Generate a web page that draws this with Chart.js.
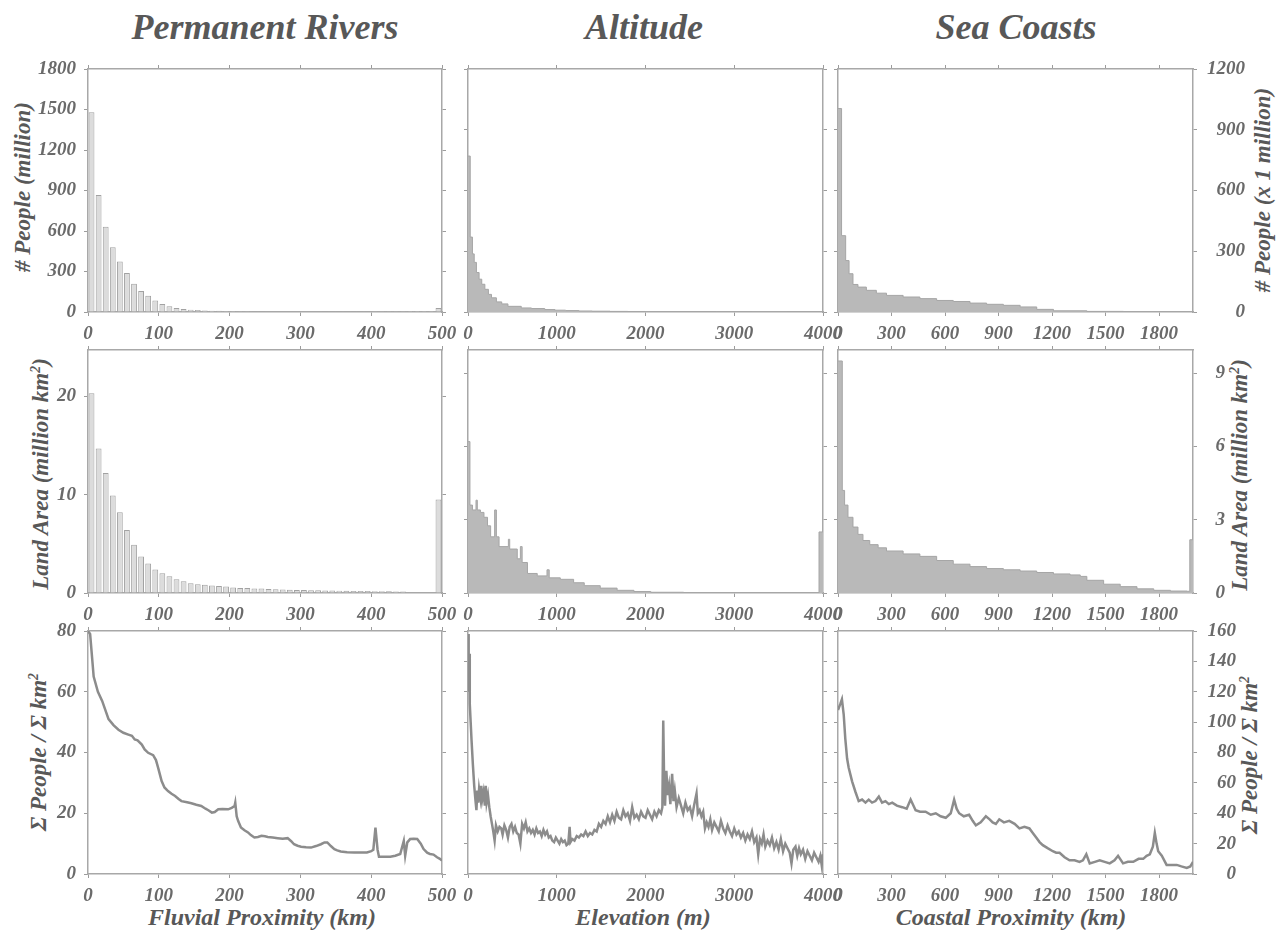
<!DOCTYPE html>
<html>
<head>
<meta charset="utf-8">
<title>Population vs rivers, altitude and coasts</title>
<script src="https://cdn.jsdelivr.net/npm/chart.js@4.4.1/dist/chart.umd.min.js"></script>
<style>
  body { margin: 0; background: #fff; }
  #page {
    position: relative; width: 1278px; height: 934px; overflow: hidden;
    font-family: 'Liberation Serif', 'DejaVu Serif', serif;
    font-style: italic; font-weight: bold; color: #585858;
  }
  #page canvas { position: absolute; }
  .head { position: absolute; top: 27px; font-size: 36px; white-space: nowrap; transform: translate(-50%, -50%); }
  .ylab { position: absolute; font-size: 23px; white-space: nowrap; transform: translate(-50%, -50%) rotate(-90deg); }
  .xlab { position: absolute; top: 917px; font-size: 24px; white-space: nowrap; transform: translate(-50%, -50%); }
  sup { font-size: 60%; }
</style>
</head>
<body>
<div id="page">
  <div class="head" style="left:265px">Permanent Rivers</div>
  <div class="head" style="left:644px">Altitude</div>
  <div class="head" style="left:1016px">Sea Coasts</div>

  <div class="ylab" style="left:23px; top:187px">&#35; People (million)</div>
  <div class="ylab" style="left:41px; top:474px">Land Area (million km<sup>2</sup>)</div>
  <div class="ylab" style="left:39px; top:752px">&Sigma; People / &Sigma; km<sup>2</sup></div>
  <div class="ylab" style="left:1263px; top:190px">&#35; People (x 1 million)</div>
  <div class="ylab" style="left:1240px; top:475px">Land Area (million km<sup>2</sup>)</div>
  <div class="ylab" style="left:1250px; top:755px">&Sigma; People / &Sigma; km<sup>2</sup></div>

  <div class="xlab" style="left:262px">Fluvial Proximity (km)</div>
  <div class="xlab" style="left:643px">Elevation (m)</div>
  <div class="xlab" style="left:1011px">Coastal Proximity (km)</div>
</div>
<script>
// ---- Permanent rivers: 10 km bins (bin centres) ----
const riverBins = [5, 15, 25, 35, 45, 55, 65, 75, 85, 95, 105, 115, 125, 135, 145,
  155, 165, 175, 185, 195, 205, 215, 225, 235, 245, 255, 265, 275, 285, 295,
  305, 315, 325, 335, 345, 355, 365, 375, 385, 395, 405, 415, 425, 435, 445,
  455, 465, 475, 485, 495];
const riverPeople = [1480, 866, 632, 480, 374, 288, 209, 155, 120, 86, 59, 42, 30, 22, 17,
  14, 12, 10, 9, 8, 7, 6, 6, 5, 5, 4, 4, 4, 3, 3,
  3, 3, 3, 2, 2, 2, 2, 2, 2, 2, 1, 1, 1, 1, 1,
  0.5, 0.5, 0.5, 0.5, 30];
const riverArea = [20.3, 14.7, 12.2, 9.9, 8.2, 6.4, 4.9, 3.7, 3.0, 2.4, 2.0, 1.7, 1.4, 1.2, 1.0,
  0.9, 0.85, 0.75, 0.7, 0.65, 0.55, 0.5, 0.5, 0.45, 0.45, 0.4, 0.38, 0.35, 0.33, 0.3,
  0.3, 0.28, 0.27, 0.25, 0.25, 0.23, 0.22, 0.21, 0.2, 0.2, 0.19, 0.18, 0.17, 0.16, 0.15,
  0.05, 0.05, 0.05, 0.05, 9.5];
const riverDensX = [0, 3, 8, 14, 20, 29, 36, 43, 50, 57, 62, 66, 70, 76, 80, 85, 92, 96, 99, 104,
  108, 113, 118, 123, 128, 132, 140, 146, 153, 160, 166, 170, 175, 179, 184, 190, 198, 203, 207, 208,
  210, 212, 216, 221, 226, 230, 235, 240, 245, 250, 254, 261, 268, 275, 282, 287, 291, 296, 301, 308,
  315, 322, 329, 334, 338, 343, 348, 352, 357, 366, 376, 385, 394, 400, 403, 406, 409, 411, 420, 427,
  434, 441, 446, 448, 451, 455, 460, 465, 470, 474, 479, 483, 488, 493, 497, 500];
const riverDensY = [80, 79, 65, 60, 57, 51, 49, 47.5, 46.5, 45.9, 45.5, 44.3, 44, 42.6, 41, 39.9, 39.1, 37.5, 35, 30.6,
  28.5, 27.3, 26.4, 25.7, 24.7, 24, 23.6, 23.3, 22.8, 22.4, 21.5, 21, 20.2, 20.4, 21.3, 21.4, 21.3, 21.8, 22.4, 23.5,
  19, 17.5, 15.3, 14.4, 13.7, 12.8, 12, 12.2, 12.6, 12.4, 12.2, 12, 11.8, 11.6, 11.8, 10.8, 9.8, 9.3, 9, 8.8,
  8.7, 9.2, 9.8, 10.4, 10.4, 9.2, 8.2, 7.8, 7.4, 7.2, 7.1, 7.1, 7.1, 7.5, 8, 15.3, 8, 5.7, 5.7, 5.7,
  6, 6.6, 10.9, 6, 10.4, 11.5, 11.6, 11.5, 10, 8.2, 7, 6.6, 6.4, 5.5, 5, 4.4];

// ---- Altitude: bins given by their left edge (m) ----
const elevPeopleEdges = [0, 25, 50, 70, 95, 125, 155, 190, 230, 265, 320, 380, 450, 600, 715,
  865, 980, 1100, 1250, 1400, 1600, 1800, 2000, 2400, 2800, 3200, 3600, 3950, 4000];
const elevPeople = [770, 370, 287, 245, 195, 162, 137, 112, 87, 70, 50, 40, 28, 20, 17,
  12, 9, 7, 5, 4, 3, 2.5, 2, 1.5, 1, 0.8, 0.5, 1, 1];
const elevAreaEdges = [0, 22, 50, 90, 105, 140, 180, 220, 255, 300, 320, 350, 455, 470, 555,
  590, 610, 670, 780, 890, 915, 1040, 1190, 1310, 1490, 1680, 1870, 2060, 2430, 3955, 4000];
const elevArea = [6.2, 3.6, 3.4, 3.8, 3.4, 3.3, 3.1, 2.75, 2.3, 3.4, 2.3, 1.9, 2.2, 1.8, 1.4,
  1.9, 1.25, 0.8, 0.7, 0.95, 0.62, 0.56, 0.42, 0.3, 0.2, 0.11, 0.06, 0.03, 0.01, 2.5, 2.5];
const elevDensX = [0, 5, 10, 15, 20, 30, 40, 55, 70, 85, 95, 105, 115, 125, 140, 150, 160, 175, 190, 200,
  210, 225, 240, 255, 270, 285, 300, 315, 335, 355, 375, 390, 410, 430, 450, 470, 490, 510, 530, 550,
  570, 590, 610, 630, 650, 670, 690, 710, 730, 750, 770, 790, 810, 830, 850, 870, 890, 910, 930, 950,
  970, 990, 1010, 1030, 1050, 1070, 1090, 1110, 1130, 1145, 1155, 1175, 1200, 1225, 1250, 1275, 1300, 1325, 1350, 1375,
  1400, 1425, 1450, 1475, 1500, 1525, 1550, 1575, 1600, 1625, 1650, 1675, 1700, 1725, 1750, 1775, 1800, 1825, 1850, 1875,
  1900, 1925, 1950, 1975, 2000, 2025, 2050, 2075, 2100, 2125, 2150, 2175, 2190, 2200, 2210, 2220, 2235, 2250, 2265, 2280,
  2300, 2315, 2330, 2350, 2375, 2400, 2425, 2450, 2475, 2500, 2525, 2550, 2575, 2590, 2610, 2630, 2650, 2670, 2690, 2710,
  2730, 2750, 2775, 2800, 2825, 2850, 2875, 2900, 2925, 2950, 2975, 3000, 3025, 3050, 3075, 3100, 3125, 3150, 3175, 3200,
  3225, 3250, 3270, 3290, 3310, 3330, 3350, 3375, 3400, 3425, 3450, 3475, 3500, 3525, 3550, 3575, 3600, 3625, 3645, 3665,
  3690, 3710, 3730, 3750, 3775, 3800, 3825, 3850, 3875, 3900, 3925, 3950, 3970, 3985, 4000];
const elevDensY = [158, 150, 120, 145, 112, 100, 88, 72, 58, 48, 42, 55, 47, 56, 50, 58, 49, 54, 45, 58,
  47, 52, 44, 38, 33, 28, 22, 32, 28, 31, 30, 26, 32, 29, 24, 31, 33, 28, 31, 27,
  26, 20, 33, 30, 34, 28, 30, 27, 29, 26, 30, 27, 28, 25, 29, 26, 28, 24, 25, 22,
  21, 24, 22, 20, 23, 21, 22, 19, 20, 31, 21, 23, 22, 25, 24, 26, 25, 28, 25, 27,
  26, 29, 28, 33, 31, 35, 33, 38, 34, 39, 35, 41, 37, 36, 42, 38, 40, 35, 44, 37,
  39, 36, 41, 38, 37, 42, 39, 36, 41, 38, 42, 40, 44, 101, 60, 45, 68, 52, 58, 46,
  66, 48, 55, 44, 50, 45, 40, 47, 42, 44, 38, 46, 53, 40, 42, 38, 41, 30, 34, 31,
  36, 29, 34, 31, 28, 35, 30, 27, 32, 28, 25, 30, 26, 28, 24, 27, 22, 26, 23, 28,
  21, 24, 13, 23, 20, 26, 18, 22, 19, 24, 17, 21, 16, 23, 15, 20, 17, 14, 7, 16,
  18, 12, 17, 13, 16, 10, 15, 12, 9, 14, 11, 8, 12, 6, 13];

// ---- Sea coasts: bins given by their left edge (km) ----
const coastPeopleEdges = [0, 20, 43, 62, 84, 112, 159, 215, 272, 365, 459, 553, 646, 740, 833,
  927, 1021, 1114, 1208, 1395, 1600, 1990];
const coastPeople = [1005, 377, 254, 189, 136, 123, 107, 93, 82, 74, 66, 57, 52, 44, 38,
  33, 25, 13, 6, 3, 2, 2];
const coastAreaEdges = [0, 24, 37, 56, 84, 112, 140, 178, 225, 272, 365, 459, 553, 646, 740,
  833, 927, 1021, 1114, 1208, 1301, 1358, 1395, 1489, 1582, 1676, 1770, 1864, 1957, 1972, 1990];
const coastArea = [9.5, 4.2, 3.6, 3.1, 2.7, 2.4, 2.15, 1.98, 1.85, 1.72, 1.6, 1.5, 1.33, 1.18, 1.08,
  1.0, 0.95, 0.9, 0.84, 0.78, 0.74, 0.68, 0.52, 0.36, 0.26, 0.17, 0.11, 0.08, 0.07, 2.18, 2.18];
const coastDensX = [0, 13, 22, 32, 41, 51, 60, 79, 98, 116, 135, 154, 172, 191, 210, 229, 247, 266, 285, 304,
  330, 360, 385, 407, 435, 460, 491, 520, 548, 575, 604, 632, 651, 665, 679, 705, 735, 755, 773, 800,
  829, 850, 867, 885, 904, 930, 960, 990, 1017, 1045, 1073, 1092, 1111, 1130, 1148, 1175, 1204, 1223, 1242, 1270,
  1298, 1326, 1354, 1373, 1392, 1411, 1440, 1467, 1495, 1523, 1550, 1570, 1598, 1625, 1655, 1685, 1711, 1730, 1748, 1765,
  1776, 1786, 1795, 1815, 1842, 1870, 1899, 1925, 1955, 1975, 1990];
const coastDensY = [108, 112, 115, 105, 89, 76, 70, 61, 54, 48, 49, 47, 49, 47, 48, 51, 47, 48, 46, 47,
  45, 44, 43, 49, 42, 41, 41, 39, 40, 38, 37, 40, 49, 43, 40, 38, 39, 35, 32, 34,
  38, 36, 34, 33, 36, 34, 35, 33, 30, 31, 30, 27, 24, 21, 19, 17, 15, 14, 14, 11,
  9, 9, 8, 9, 13, 7, 8, 9, 8, 7, 9, 12, 7, 8, 8, 10, 10, 12, 13, 18,
  27, 20, 15, 12, 6, 6, 6, 5, 4, 5, 8];

// ---- tick values ----
const riverTicks = [0, 100, 200, 300, 400, 500];
const elevTicks = [0, 1000, 2000, 3000, 4000];
const coastTicks = [0, 300, 600, 900, 1200, 1500, 1800];
const peopleLeftTicks = [0, 300, 600, 900, 1200, 1500, 1800];
const peopleRightTicks = [0, 300, 600, 900, 1200];
const areaLeftTicks = [0, 10, 20];
const areaRightTicks = [0, 3, 6, 9];
const densLeftTicks = [0, 20, 40, 60, 80];
const densRightTicks = [0, 20, 40, 60, 80, 100, 120, 140, 160];

// ---- layout of the 3 x 3 grid (plot-area edges in page pixels) ----
const COLS = [{ l: 88, r: 442 }, { l: 468, r: 823 }, { l: 838, r: 1193 }];
const ROWS = [{ t: 69, b: 312 }, { t: 350, b: 593 }, { t: 631, b: 874 }];
const LW = 90, TH = 20, BH = 44;
const RIGHT_W = [[40, 40, 52], [40, 40, 32], [40, 40, 43]];

const TEXT = '#6a6a6a';
const TICK_FONT = { family: "'Liberation Serif', serif", size: 19, style: 'italic', weight: 'bold' };
const GRID = { drawOnChartArea: false, drawTicks: true, tickLength: 4, color: '#9c9c9c', lineWidth: 1, offset: false };
const BORDER = { display: true, color: '#a8a8a8', width: 1.5 };

const X_RANGES = [
  { min: 0, max: 500, ticks: riverTicks },
  { min: 0, max: 4000, ticks: elevTicks },
  { min: 0, max: 1990, ticks: coastTicks }
];
const Y_RANGES = [
  [{ min: 0, max: 1800, ticks: peopleLeftTicks }, { min: 0, max: 1200, ticks: peopleRightTicks }, { min: 0, max: 1200, ticks: peopleRightTicks }],
  [{ min: 0, max: 24.7, ticks: areaLeftTicks }, { min: 0, max: 9.95, ticks: areaRightTicks }, { min: 0, max: 9.95, ticks: areaRightTicks }],
  [{ min: 0, max: 80, ticks: densLeftTicks }, { min: 0, max: 160, ticks: densRightTicks }, { min: 0, max: 160, ticks: densRightTicks }]
];

function pairs(xs, ys) {
  return xs.map((x, i) => ({ x: x, y: ys[i] }));
}

function setTicks(values) {
  return scale => { scale.ticks = values.map(v => ({ value: v })); };
}

function axisX(range, position, labels, size) {
  return {
    type: 'linear', position: position, min: range.min, max: range.max, offset: false,
    ticks: {
      display: labels, font: TICK_FONT, color: TEXT, padding: 7, maxRotation: 0, autoSkip: false,
      callback: v => String(v)
    },
    grid: GRID, border: BORDER,
    afterBuildTicks: setTicks(range.ticks),
    afterFit: s => { s.height = size; }
  };
}

function axisY(range, position, labels, size) {
  return {
    type: 'linear', position: position, min: range.min, max: range.max,
    ticks: {
      display: labels, font: TICK_FONT, color: TEXT, padding: 8, autoSkip: false,
      crossAlign: position === 'right' ? 'far' : 'near',
      callback: v => String(v)
    },
    grid: GRID, border: BORDER,
    afterBuildTicks: setTicks(range.ticks),
    afterFit: s => { s.width = size; }
  };
}

function barSet(bins, values) {
  return {
    data: pairs(bins, values),
    backgroundColor: '#dcdcdc', borderColor: '#a2a2a2', borderWidth: 1,
    barPercentage: 0.82, categoryPercentage: 1
  };
}

function histSet(edges, values) {
  return {
    data: pairs(edges, values), stepped: true, fill: 'origin',
    backgroundColor: '#b9b9b9', borderColor: '#a6a6a6', borderWidth: 1, pointRadius: 0
  };
}

function lineSet(xs, ys) {
  return {
    data: pairs(xs, ys), fill: false, tension: 0,
    borderColor: '#8c8c8c', borderWidth: 2.5, pointRadius: 0
  };
}

const panels = [
  { row: 0, col: 0, type: 'bar', set: barSet(riverBins, riverPeople) },
  { row: 0, col: 1, type: 'line', set: histSet(elevPeopleEdges, elevPeople) },
  { row: 0, col: 2, type: 'line', set: histSet(coastPeopleEdges, coastPeople) },
  { row: 1, col: 0, type: 'bar', set: barSet(riverBins, riverArea) },
  { row: 1, col: 1, type: 'line', set: histSet(elevAreaEdges, elevArea) },
  { row: 1, col: 2, type: 'line', set: histSet(coastAreaEdges, coastArea) },
  { row: 2, col: 0, type: 'line', set: lineSet(riverDensX, riverDensY) },
  { row: 2, col: 1, type: 'line', set: lineSet(elevDensX, elevDensY) },
  { row: 2, col: 2, type: 'line', set: lineSet(coastDensX, coastDensY) }
];

const page = document.getElementById('page');
panels.forEach(p => {
  const c = COLS[p.col], r = ROWS[p.row];
  const rw = RIGHT_W[p.row][p.col];
  const canvas = document.createElement('canvas');
  canvas.width = LW + (c.r - c.l) + rw;
  canvas.height = TH + (r.b - r.t) + BH;
  canvas.style.left = (c.l - LW) + 'px';
  canvas.style.top = (r.t - TH) + 'px';
  page.appendChild(canvas);

  const xr = X_RANGES[p.col], yr = Y_RANGES[p.row][p.col];
  new Chart(canvas.getContext('2d'), {
    type: p.type,
    data: { datasets: [p.set] },
    options: {
      responsive: false, animation: false, devicePixelRatio: 1,
      layout: { padding: 0 },
      plugins: { legend: { display: false }, tooltip: { enabled: false } },
      scales: {
        x: axisX(xr, 'bottom', true, BH),
        x2: axisX(xr, 'top', false, TH),
        y: axisY(yr, 'left', p.col === 0, LW),
        y2: axisY(yr, 'right', p.col === 2, rw)
      }
    }
  });
});
</script>
</body>
</html>
